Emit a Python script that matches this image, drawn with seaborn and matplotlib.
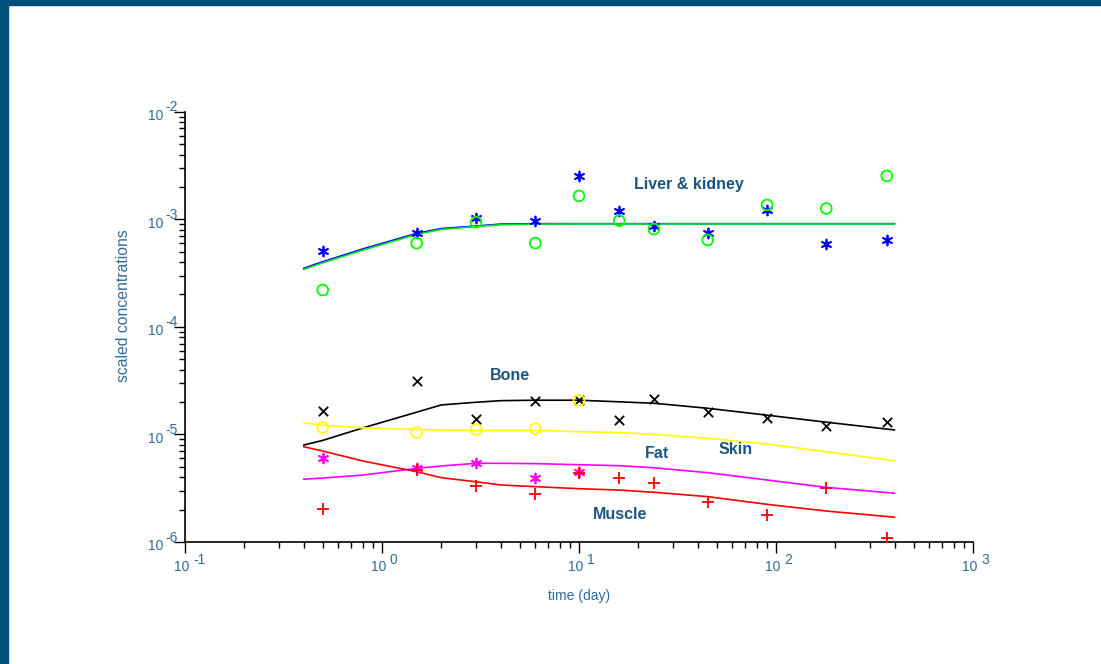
import numpy as np
import matplotlib
matplotlib.use("Agg")
import matplotlib.pyplot as plt
import seaborn as sns
from matplotlib.patches import Rectangle
from matplotlib.ticker import LogLocator, NullFormatter

# Sampling times (days)
days = [0.5, 1.5, 3, 6, 10, 16, 24, 45, 90, 180, 365]
days_short = [0.5, 1.5, 3, 6, 10]

# Measured scaled concentrations
liver_obs_a = [5.06e-4, 7.4e-4, 1.03e-3, 9.6e-4, 2.52e-3, 1.20e-3, 8.65e-4, 7.5e-4, 1.22e-3, 5.89e-4, 6.42e-4]
liver_obs_b = [2.2e-4, 6.0e-4, 9.4e-4, 6.0e-4, 1.65e-3, 9.7e-4, 8.1e-4, 6.42e-4, 1.36e-3, 1.26e-3, 2.53e-3]
bone_obs = [1.66e-5, 3.13e-5, 1.39e-5, 2.04e-5, 2.1e-5, 1.36e-5, 2.13e-5, 1.60e-5, 1.43e-5, 1.20e-5, 1.31e-5]
skin_obs = [1.16e-5, 1.04e-5, 1.11e-5, 1.13e-5, 2.07e-5]
fat_obs = [6.08e-6, 4.84e-6, 5.46e-6, 3.96e-6, 4.50e-6]
muscle_obs = [2.04e-6, 4.67e-6, 3.32e-6, 2.81e-6, 4.35e-6, 3.91e-6, 3.51e-6, 2.34e-6, 1.79e-6, 3.15e-6, 1.08e-6]

# Model predictions
t_model = [0.4, 0.5, 0.8, 1.5, 2, 3, 4, 6, 10, 16, 24, 45, 90, 180, 400]
liver_fit_a = [3.50e-4, 4.03e-4, 5.30e-4, 7.40e-4, 8.20e-4, 8.65e-4, 9.02e-4, 9.10e-4, 9.10e-4,
               9.10e-4, 9.10e-4, 9.10e-4, 9.10e-4, 9.10e-4, 9.10e-4]
liver_fit_b = [3.42e-4, 3.94e-4, 5.17e-4, 7.24e-4, 8.05e-4, 8.55e-4, 8.90e-4, 9.02e-4, 9.05e-4,
               9.05e-4, 9.05e-4, 9.05e-4, 9.05e-4, 9.05e-4, 9.05e-4]
bone_fit = [7.96e-6, 8.80e-6, 1.15e-5, 1.61e-5, 1.88e-5, 1.99e-5, 2.06e-5, 2.08e-5, 2.08e-5,
            2.01e-5, 1.95e-5, 1.75e-5, 1.51e-5, 1.30e-5, 1.10e-5]
skin_fit = [1.28e-5, 1.22e-5, 1.15e-5, 1.11e-5, 1.10e-5, 1.09e-5, 1.09e-5, 1.09e-5, 1.06e-5,
            1.04e-5, 1.00e-5, 9.2e-6, 8.15e-6, 6.9e-6, 5.70e-6]
fat_fit = [3.83e-6, 3.93e-6, 4.19e-6, 4.84e-6, 5.09e-6, 5.39e-6, 5.39e-6, 5.35e-6, 5.23e-6,
           5.12e-6, 4.90e-6, 4.41e-6, 3.77e-6, 3.22e-6, 2.84e-6]
muscle_fit = [7.69e-6, 7.01e-6, 5.66e-6, 4.50e-6, 3.96e-6, 3.63e-6, 3.39e-6, 3.27e-6, 3.13e-6,
              3.04e-6, 2.90e-6, 2.64e-6, 2.24e-6, 1.94e-6, 1.70e-6]

x_decades = [-1, 0, 1, 2, 3]
y_decades = [-6, -5, -4, -3, -2]

organ_labels = ["Liver & kidney", "Bone", "Fat", "Skin", "Muscle"]
organ_label_pos = [(0.639, 0.830), (0.412, 0.388), (0.599, 0.205), (0.699, 0.214), (0.552, 0.063)]

FRAME = "#024f7c"
TICK_TXT = "#2f6b9b"
NOTE_TXT = "#1b5582"

sns.set_style("ticks")
plt.rcParams["font.family"] = ["Liberation Sans", "DejaVu Sans"]

fig = plt.figure(figsize=(11.01, 6.64), dpi=100, facecolor="white")
fig.patches.append(Rectangle((0, 1 - 5 / 664), 1, 5 / 664, transform=fig.transFigure,
                             color=FRAME, zorder=0))
fig.patches.append(Rectangle((0, 0), 8 / 1101, 1, transform=fig.transFigure,
                             color=FRAME, zorder=0))

ax = fig.add_axes([185 / 1101, 1 - 542 / 664, 788 / 1101, 430.3 / 664])
ax.set_xscale("log")
ax.set_yscale("log")

lw = 1.2
sns.lineplot(x=t_model, y=liver_fit_a, color="blue", lw=lw, sort=False, estimator=None, ax=ax)
sns.lineplot(x=t_model, y=liver_fit_b, color="#00e020", lw=lw, sort=False, estimator=None, ax=ax)
sns.lineplot(x=t_model, y=bone_fit, color="black", lw=lw, sort=False, estimator=None, ax=ax)
sns.lineplot(x=t_model, y=skin_fit, color="yellow", lw=lw, sort=False, estimator=None, ax=ax)
sns.lineplot(x=t_model, y=fat_fit, color="magenta", lw=lw, sort=False, estimator=None, ax=ax)
sns.lineplot(x=t_model, y=muscle_fit, color="red", lw=lw, sort=False, estimator=None, ax=ax)

mlw = 1.3
sns.scatterplot(x=days, y=liver_obs_a, marker=(6, 2, 0), color="blue", s=50, linewidth=mlw, ax=ax, zorder=3)
sns.scatterplot(x=days, y=liver_obs_b, marker="o", color="lime", facecolors="none", edgecolor="lime",
                s=60, linewidth=mlw, ax=ax, zorder=3)
sns.scatterplot(x=days, y=bone_obs, marker="x", color="black", s=45, linewidth=mlw, ax=ax, zorder=3)
sns.scatterplot(x=days_short, y=skin_obs, marker="o", color="yellow", facecolors="none", edgecolor="yellow",
                s=60, linewidth=mlw, ax=ax, zorder=3)
sns.scatterplot(x=days_short, y=fat_obs, marker=(6, 2, 0), color="magenta", s=50, linewidth=mlw, ax=ax, zorder=3)
sns.scatterplot(x=days, y=muscle_obs, marker="+", color="red", s=75, linewidth=mlw, ax=ax, zorder=3)

ax.set_xlim(0.1, 1000)
ax.set_ylim(1e-6, 1e-2)

for side in ("top", "right"):
    ax.spines[side].set_visible(False)
for side in ("left", "bottom"):
    ax.spines[side].set_color("black")
    ax.spines[side].set_linewidth(1.2)

for axis in (ax.xaxis, ax.yaxis):
    axis.set_major_locator(LogLocator(base=10, numticks=20))
    axis.set_minor_locator(LogLocator(base=10, subs=np.arange(2, 10), numticks=20))
    axis.set_minor_formatter(NullFormatter())

ax.tick_params(which="major", length=8, width=1.0, color="black", labelbottom=False, labelleft=False)
ax.tick_params(which="minor", length=4, width=1.0, color="black")

# Decade labels: "10" with a raised exponent beside it
for e in x_decades:
    ax.annotate("10", xy=(10.0 ** e, 0), xycoords=("data", "axes fraction"),
                xytext=(4.5, -25), textcoords="offset pixels", ha="right", va="center",
                fontsize=10, color=TICK_TXT, annotation_clip=False)
    ax.annotate(str(e), xy=(10.0 ** e, 0), xycoords=("data", "axes fraction"),
                xytext=(8.0, -18.5), textcoords="offset pixels", ha="left", va="center",
                fontsize=10, color=TICK_TXT, annotation_clip=False)
for e in y_decades:
    ax.annotate("10", xy=(0, 10.0 ** e), xycoords=("axes fraction", "data"),
                xytext=(-22, -4.5), textcoords="offset pixels", ha="right", va="center",
                fontsize=10, color=TICK_TXT, annotation_clip=False)
    ax.annotate(str(e), xy=(0, 10.0 ** e), xycoords=("axes fraction", "data"),
                xytext=(-20, 4.5), textcoords="offset pixels", ha="left", va="center",
                fontsize=10, color=TICK_TXT, annotation_clip=False)

ax.set_xlabel("time (day)", color=TICK_TXT, fontsize=10)
ax.xaxis.set_label_coords(0.5, -0.109)
ax.set_ylabel("scaled concentrations", color=TICK_TXT, fontsize=11.3)
ax.yaxis.set_label_coords(-0.068, 0.55)

for txt, (px, py) in zip(organ_labels, organ_label_pos):
    ax.text(px, py, txt, transform=ax.transAxes, ha="center", va="center",
            fontsize=11.5, fontweight="bold", color=NOTE_TXT)

fig.savefig("out.png", dpi=100, facecolor="white")
